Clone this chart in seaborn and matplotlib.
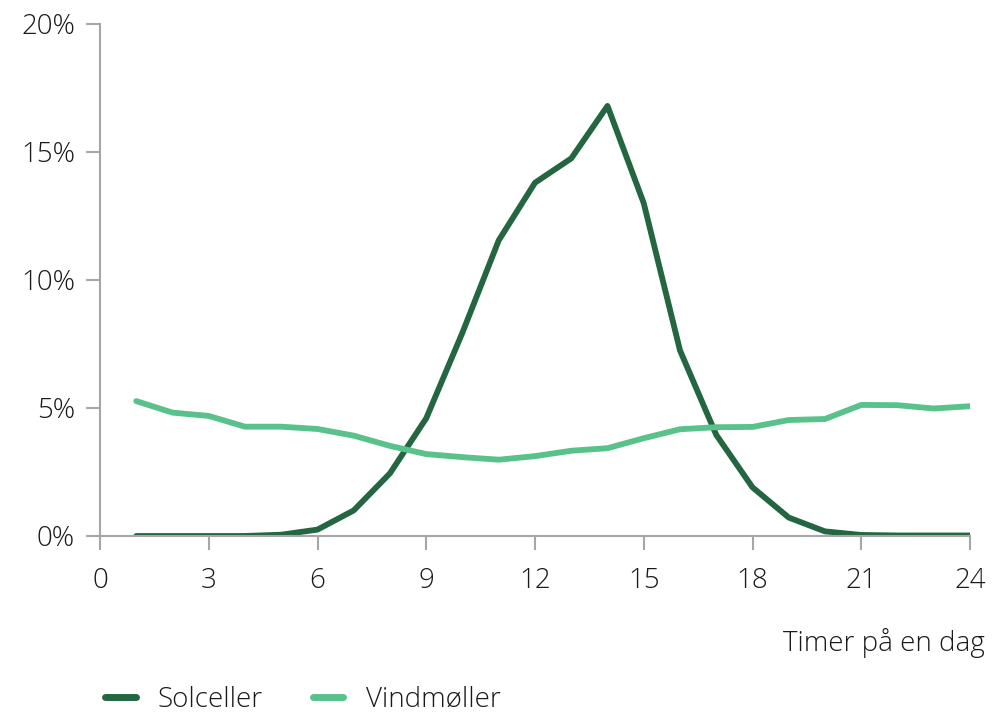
import matplotlib
matplotlib.use("Agg")
import matplotlib.pyplot as plt
import seaborn as sns
import pandas as pd
from matplotlib.ticker import FuncFormatter
from matplotlib.lines import Line2D

hours = list(range(1, 25))
solceller = [0.0, 0.0, 0.0, 0.0, 0.05, 0.25, 1.0, 2.45, 4.6, 7.95, 11.55, 13.8,
             14.75, 16.8, 13.0, 7.25, 3.95, 1.9, 0.72, 0.18, 0.04, 0.02, 0.02, 0.02]
vindmoller = [5.27, 4.82, 4.69, 4.27, 4.27, 4.18, 3.92, 3.52, 3.2, 3.08, 2.98, 3.12,
              3.33, 3.43, 3.82, 4.17, 4.25, 4.26, 4.53, 4.57, 5.12, 5.11, 4.98, 5.07]
series_names = ["Solceller", "Vindmøller"]
colors = ["#236640", "#58C28A"]
xticks = [0, 3, 6, 9, 12, 15, 18, 21, 24]
yticks = [0, 5, 10, 15, 20]
xlabel = "Timer på en dag"

df = pd.DataFrame({"hour": hours * 2,
                   "value": solceller + vindmoller,
                   "series": [series_names[0]] * 24 + [series_names[1]] * 24})

sns.set_theme(style="white")
plt.rcParams["font.family"] = ["Open Sans", "DejaVu Sans"]
plt.rcParams["font.weight"] = "light"

FS = 20
TXT = "#1a1a1a"

fig = plt.figure(figsize=(9.92, 7.13), dpi=100)
ax = fig.add_axes([100/992, 1 - 536/713, 870/992, 512/713])

sns.lineplot(data=df, x="hour", y="value", hue="series", palette=colors,
             linewidth=4.2, ax=ax, legend=False)

ax.set_xlim(0, 24)
ax.set_ylim(0, 20)
ax.set_xticks(xticks)
ax.set_yticks(yticks)
ax.yaxis.set_major_formatter(FuncFormatter(lambda v, p: f"{int(v)}%"))
for s in ["top", "right"]:
    ax.spines[s].set_visible(False)
for s in ["left", "bottom"]:
    ax.spines[s].set_color("#A6A6A6")
    ax.spines[s].set_linewidth(1.5)
ax.tick_params(axis="both", which="major", length=10, width=1.5, color="#A6A6A6",
               labelsize=FS, labelcolor=TXT, direction="out", bottom=True, left=True)
ax.tick_params(axis="x", pad=12)
ax.tick_params(axis="y", pad=8)
ax.set_xlabel("")
ax.set_ylabel("")
for lab in ax.get_xticklabels() + ax.get_yticklabels():
    lab.set_fontweight("light")

fig.text(985/992, 1 - 643/713, xlabel, ha="right", va="center", fontsize=FS,
         color=TXT, fontweight="light")

handles = [Line2D([0], [0], color=c, lw=5, solid_capstyle="round") for c in colors]
leg = fig.legend(handles, series_names, loc="center left",
                 bbox_to_anchor=(80/992, 1 - 700/713), ncol=2, frameon=False,
                 fontsize=FS, handlelength=1.1, handletextpad=0.8, columnspacing=1.8)
for t in leg.get_texts():
    t.set_color(TXT)
    t.set_fontweight("light")

fig.savefig("out.png", dpi=100)
